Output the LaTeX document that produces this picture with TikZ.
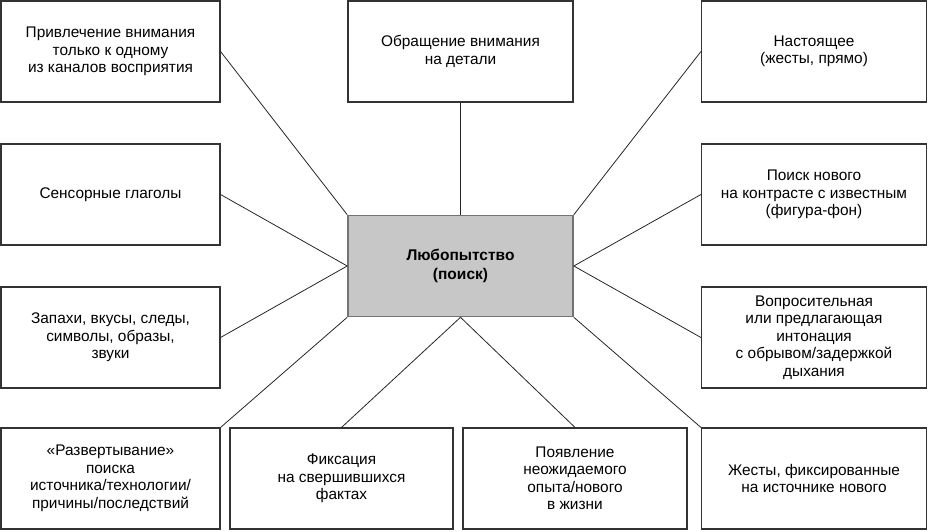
\documentclass[tikz,border=0pt]{standalone}
\usepackage{fontspec}
\setmainfont{Liberation Sans}
\begin{document}
\begin{tikzpicture}[x=1pt,y=-1pt,
  box/.style={draw=black!80, line width=1.1pt, fill=white, align=center, inner sep=0pt,
    font=\fontsize{15.4}{17.5}\selectfont, minimum height=101pt},
  cbox/.style={box, fill=black!22, draw=black!55, line width=1.6pt, font=\fontsize{15.5}{18.5}\selectfont\bfseries},
  link/.style={draw=black!85, line width=0.8pt}]
\useasboundingbox (0,0) rectangle (928,532);
\node[box, minimum width=219pt] (a) at (110.5,51.5) {Привлечение внимания\\только к одному\\из каналов восприятия};
\node[box, minimum width=225pt] (b) at (460.5,51.5) {Обращение внимания\\на детали};
\node[box, minimum width=225pt] (c) at (814,51.5) {Настоящее\\(жесты, прямо)};
\node[box, minimum width=219pt] (d) at (110.5,194.5) {Сенсорные глаголы};
\node[box, minimum width=225pt] (e) at (814,194.5) {Поиск нового\\на контрасте с известным\\(фигура-фон)};
\node[box, minimum width=219pt] (f) at (110.5,337.5) {Запахи, вкусы, следы,\\символы, образы,\\звуки};
\node[box, minimum width=225pt] (g) at (814,337.5) {Вопросительная\\или предлагающая\\интонация\\с обрывом/задержкой\\дыхания};
\node[box, minimum width=219pt] (h) at (110.5,478.5) {«Развертывание»\\поиска\\источника/технологии/\\причины/последствий};
\node[box, minimum width=223pt] (i) at (341.5,478.5) {Фиксация\\на свершившихся\\фактах};
\node[box, minimum width=224pt] (j) at (575,478.5) {Появление\\неожидаемого\\опыта/нового\\в жизни};
\node[box, minimum width=225pt] (k) at (814,478.5) {Жесты, фиксированные\\на источнике нового};
\node[cbox, minimum width=225pt] (x) at (460.5,266) {Любопытство\\(поиск)};
\draw[link] (a.east) -- (x.north west);
\draw[link] (b.south) -- (x.north);
\draw[link] (c.west) -- (x.north east);
\draw[link] (d.east) -- (x.west);
\draw[link] (f.east) -- (x.west);
\draw[link] (e.west) -- (x.east);
\draw[link] (g.west) -- (x.east);
\draw[link] (h.north east) -- (x.south west);
\draw[link] (i.north) -- (x.south);
\draw[link] (j.north) -- (x.south);
\draw[link] (k.north west) -- (x.south east);
\end{tikzpicture}
\end{document}
